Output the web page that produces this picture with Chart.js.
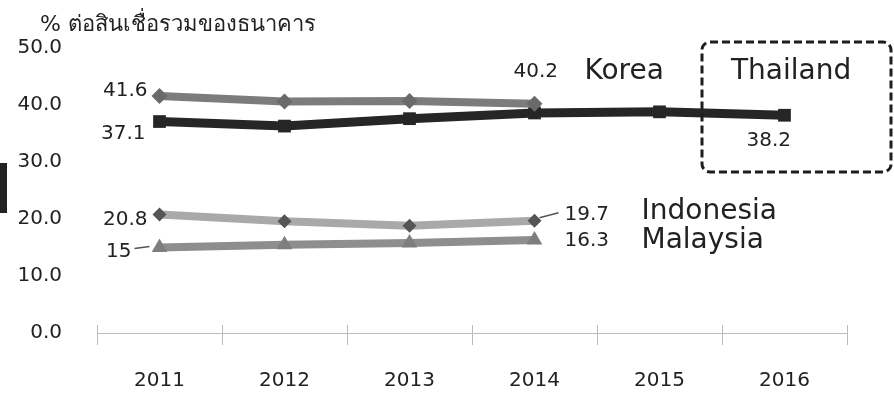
<!DOCTYPE html>
<html>
<head>
<meta charset="utf-8">
<script src="https://cdn.jsdelivr.net/npm/chart.js@4"></script>
<style>
  html, body { margin: 0; padding: 0; background: #fff; }
  #wrap { position: relative; width: 894px; height: 394px; }
  #edge { position: absolute; left: 0; top: 163px; width: 7px; height: 50px; background: #222; }
</style>
</head>
<body>
<div id="wrap">
  <canvas id="npl" width="894" height="394"></canvas>
  <div id="edge"></div>
</div>
<script>
const years = ["2011", "2012", "2013", "2014", "2015", "2016"];
const korea = [41.6, 40.6, 40.7, 40.2, null, null];
const thailand = [37.1, 36.3, 37.6, 38.6, 38.8, 38.2];
const indonesia = [20.8, 19.6, 18.8, 19.7, null, null];
const malaysia = [15, 15.5, 15.8, 16.3, null, null];
const yTicks = [0, 10, 20, 30, 40, 50];

const FONT = "'DejaVu Sans', 'Noto Sans', sans-serif";

// labels, leader lines and the dashed box around Thailand
const notes = {
    id: "notes",
    afterDatasetsDraw(chart) {
        const ctx = chart.ctx;
        const x = chart.scales.x, y = chart.scales.y;
        const px = i => x.getPixelForValue(i);
        const py = v => y.getPixelForValue(v);
        ctx.save();
        ctx.fillStyle = "#222";
        ctx.textBaseline = "middle";

        ctx.font = "22px " + FONT;
        ctx.textAlign = "left";
        ctx.fillText("% ต่อสินเชื่อรวมของธนาคาร", 40, 25);

        ctx.font = "20px " + FONT;
        ctx.textAlign = "right";
        ctx.fillText(String(korea[0]), px(0) - 12, py(korea[0]) - 5);
        ctx.fillText(String(thailand[0]), px(0) - 14, py(thailand[0]) + 12);
        ctx.fillText(String(indonesia[0]), px(0) - 12, py(indonesia[0]) + 5);
        ctx.fillText(String(malaysia[0]), px(0) - 28, py(malaysia[0]) + 4);

        ctx.textAlign = "left";
        ctx.fillText(String(korea[3]), px(3) - 21, py(korea[3]) - 32);
        ctx.fillText(thailand[5].toFixed(1), px(5) - 38, py(thailand[5]) + 26);
        ctx.fillText(String(indonesia[3]), px(3) + 30, py(indonesia[3]) - 6);
        ctx.fillText(String(malaysia[3]), px(3) + 30, py(malaysia[3]) + 1);

        ctx.font = "28px " + FONT;
        ctx.fillText("Korea", px(3) + 50, py(korea[3]) - 32);
        ctx.fillText("Indonesia", px(3) + 107, py(indonesia[3]) - 9);
        ctx.fillText("Malaysia", px(3) + 107, py(malaysia[3]) + 1);
        ctx.fillText("Thailand", 731, 72);

        // short leader lines
        ctx.strokeStyle = "#555";
        ctx.lineWidth = 1.5;
        ctx.beginPath();
        ctx.moveTo(px(0) - 25, py(malaysia[0]) + 1);
        ctx.lineTo(px(0) - 10, py(malaysia[0]) - 1);
        ctx.moveTo(px(3) + 5, py(indonesia[3]) - 3);
        ctx.lineTo(px(3) + 24, py(indonesia[3]) - 8);
        ctx.stroke();

        // tick stubs above the x axis line
        ctx.strokeStyle = "#bbb";
        ctx.lineWidth = 1;
        ctx.beginPath();
        for (let i = 0; i <= years.length; i++) {
            const tx = Math.round(chart.chartArea.left + i * (chart.chartArea.right - chart.chartArea.left) / years.length) + 0.5;
            ctx.moveTo(tx, chart.chartArea.bottom - 8);
            ctx.lineTo(tx, chart.chartArea.bottom);
        }
        ctx.stroke();

        // dashed frame
        ctx.strokeStyle = "#1e1e1e";
        ctx.lineWidth = 3;
        ctx.setLineDash([8, 4]);
        ctx.beginPath();
        ctx.roundRect(702, 42, 189, 130, 8);
        ctx.stroke();
        ctx.restore();
    }
};

const ctx = document.getElementById("npl").getContext("2d");
new Chart(ctx, {
    type: "line",
    data: {
        labels: years,
        datasets: [
            {
                label: "Korea",
                data: korea,
                borderColor: "#7c7c7c",
                backgroundColor: "#6a6a6a",
                borderWidth: 8,
                pointStyle: "rectRot",
                pointRadius: 8,
                pointBorderWidth: 0
            },
            {
                label: "Thailand",
                data: thailand,
                borderColor: "#262626",
                backgroundColor: "#262626",
                borderWidth: 9,
                pointStyle: "rect",
                pointRadius: 9,
                pointBorderWidth: 0
            },
            {
                label: "Indonesia",
                data: indonesia,
                borderColor: "#a9a9a9",
                backgroundColor: "#555",
                borderWidth: 8,
                pointStyle: "rectRot",
                pointRadius: 7,
                pointBorderWidth: 0
            },
            {
                label: "Malaysia",
                data: malaysia,
                borderColor: "#8e8e8e",
                backgroundColor: "#7e7e7e",
                borderWidth: 8,
                pointStyle: "triangle",
                pointRadius: 9,
                pointBorderWidth: 0
            }
        ]
    },
    options: {
        responsive: false,
        animation: false,
        spanGaps: false,
        layout: { padding: { top: 48, right: 47, left: 0, bottom: 0 } },
        plugins: {
            legend: { display: false },
            tooltip: { enabled: false }
        },
        scales: {
            x: {
                offset: true,
                grid: {
                    offset: true,
                    drawOnChartArea: false,
                    color: "#bbb",
                    tickLength: 12
                },
                border: { color: "#bbb", width: 1 },
                ticks: {
                    color: "#222",
                    padding: 24,
                    font: { family: FONT, size: 20 }
                },
                afterFit: s => { s.height = 61; }
            },
            y: {
                min: 0,
                max: 50,
                grid: { display: false },
                border: { display: false },
                afterBuildTicks: s => { s.ticks = yTicks.map(v => ({ value: v })); },
                ticks: {
                    color: "#222",
                    padding: 27,
                    font: { family: FONT, size: 20 },
                    callback: v => Number(v).toFixed(1)
                },
                afterFit: s => { s.width = 97; }
            }
        }
    },
    plugins: [notes]
});
</script>
</body>
</html>
